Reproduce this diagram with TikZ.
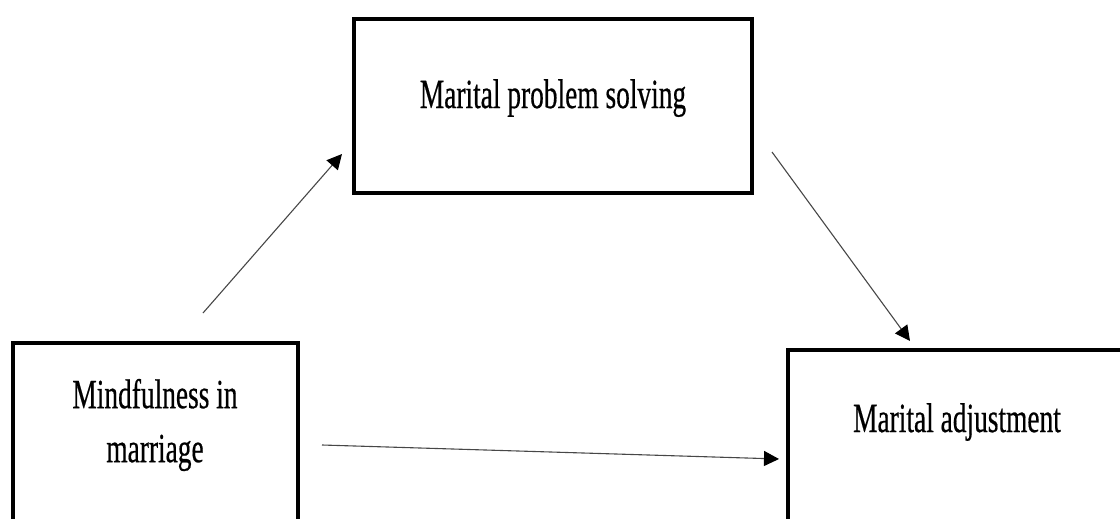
\documentclass[tikz,border=0pt]{standalone}
\usepackage{graphicx}
\usepackage{fontspec}
\setmainfont{Liberation Serif}
\newfontfamily\lblfont{Liberation Serif}[FakeBold=0.6]
\usetikzlibrary{arrows.meta}
\newcommand\nx[1]{\scalebox{0.66}[1]{#1}}
\begin{document}
\begin{tikzpicture}[x=1pt,y=-1pt,
  box/.style={draw=black, line width=3.2pt, inner sep=0pt},
  lbl/.style={font=\lblfont\fontsize{41.5}{54}\selectfont, inner sep=0pt, align=center},
  conn/.style={draw=black!72, line width=1.1pt, -{Triangle[length=15pt,width=15pt,fill=black,color=black]}}]
\useasboundingbox (0,0) rectangle (1120,519);
\clip (0,0) rectangle (1120,519);
% boxes
\node[box, minimum width=398pt, minimum height=174pt] (mps) at (553,106) {};
\node[box, minimum width=285pt, minimum height=237pt] (mim) at (155.5,461.5) {};
\node[box, minimum width=338pt, minimum height=240pt] (ma) at (957,470) {};
% labels
\node[lbl, anchor=base] (tmps) at (mps.center |- 0,108) {\nx{Marital problem solving}};
\node[lbl] (tmim) at (155,425) {\nx{Mindfulness in}\\\nx{marriage}};
\node[lbl, anchor=base] (tma) at (ma.center |- 0,432) {\nx{Marital adjustment}};
% connectors
\coordinate (a1s) at (203,313);
\coordinate (a1e) at (342,154);
\coordinate (a2s) at (772,152);
\coordinate (a2e) at (910,341);
\coordinate (a3s) at (322,445);
\coordinate (a3e) at (779,459);
\draw[conn] (a1s) -- (a1e);
\draw[conn] (a2s) -- (a2e);
\draw[conn] (a3s) -- (a3e);
\end{tikzpicture}
\end{document}
